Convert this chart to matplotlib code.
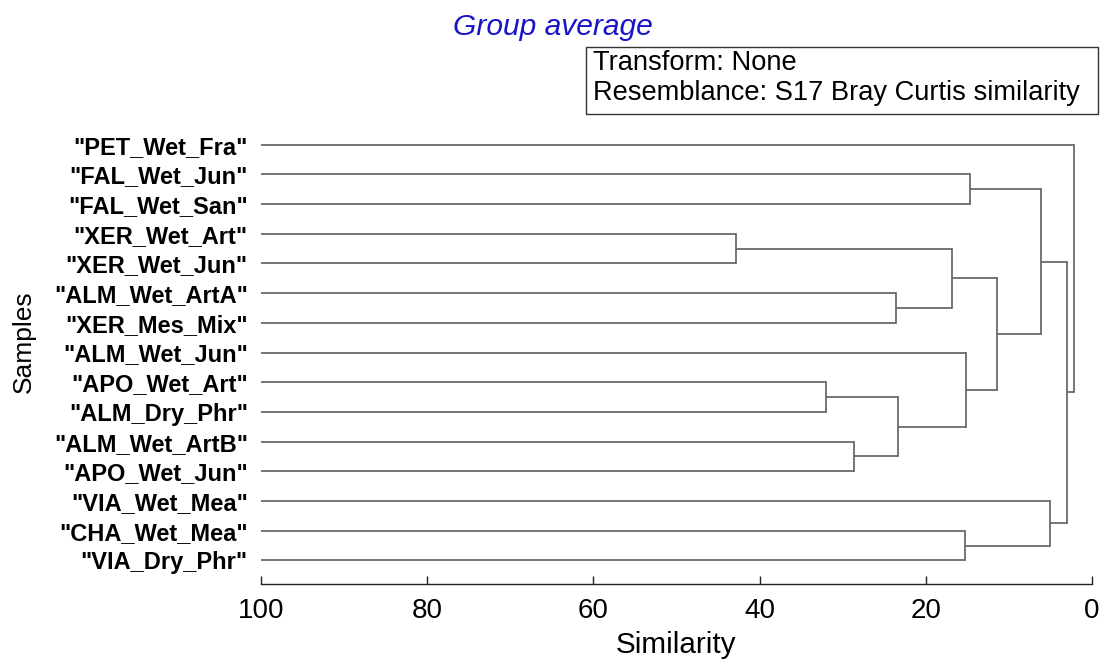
import matplotlib
matplotlib.use("Agg")
import matplotlib.pyplot as plt
from matplotlib.patches import Rectangle

plt.rcParams['font.family'] = ['Liberation Sans', 'DejaVu Sans']

# Leaves (top to bottom)
samples = ['"PET_Wet_Fra"', '"FAL_Wet_Jun"', '"FAL_Wet_San"', '"XER_Wet_Art"',
           '"XER_Wet_Jun"', '"ALM_Wet_ArtA"', '"XER_Mes_Mix"', '"ALM_Wet_Jun"',
           '"APO_Wet_Art"', '"ALM_Dry_Phr"', '"ALM_Wet_ArtB"', '"APO_Wet_Jun"',
           '"VIA_Wet_Mea"', '"CHA_Wet_Mea"', '"VIA_Dry_Phr"']

# Merges: child A, child B (node ids; leaves are 0..14, new nodes from 15)
merge_a = [3, 8, 10, 5, 16, 15, 13, 7, 1, 20, 23, 12, 25, 0]
merge_b = [4, 9, 11, 6, 17, 18, 14, 19, 2, 22, 24, 21, 26, 27]
merge_sim = [42.8, 32.0, 28.7, 23.6, 23.4, 16.8, 15.3, 15.2, 14.7, 11.4, 6.1, 5.1, 2.95, 2.2]

xticks = [100, 80, 60, 40, 20, 0]

W, H = 1102, 662
fig = plt.figure(figsize=(W / 100, H / 100), dpi=100)

# axes placement (pixels)
x_left, x_right = 261, 1092
y0_pix, dy_pix = 144.7, 29.69
ax_bot_pix, ax_top_pix = 584.3, 120
ax = fig.add_axes([x_left / W, 1 - ax_bot_pix / H,
                   (x_right - x_left) / W, (ax_bot_pix - ax_top_pix) / H])
ax.set_xlim(100, 0)
ax.set_ylim((ax_bot_pix - y0_pix) / dy_pix, (ax_top_pix - y0_pix) / dy_pix)

# node positions
n = len(samples)
node_x = {i: 100.0 for i in range(n)}
node_y = {i: float(i) for i in range(n)}
lc = '#6a6a6a'
lw = 1.3
for k, (a, b, s) in enumerate(zip(merge_a, merge_b, merge_sim)):
    nid = n + k
    ya, yb = node_y[a], node_y[b]
    ax.plot([node_x[a], s], [ya, ya], color=lc, lw=lw, solid_capstyle='butt')
    ax.plot([node_x[b], s], [yb, yb], color=lc, lw=lw, solid_capstyle='butt')
    ax.plot([s, s], [ya, yb], color=lc, lw=lw, solid_capstyle='projecting')
    node_x[nid] = s
    node_y[nid] = (ya + yb) / 2

for sp in ['top', 'right', 'left']:
    ax.spines[sp].set_visible(False)
ax.spines['bottom'].set_color('#222222')
ax.spines['bottom'].set_linewidth(1.0)

ax.set_xticks(xticks)
ax.set_xticklabels([str(t) for t in xticks])
ax.tick_params(axis='x', direction='in', length=6, width=1.0, color='#222222',
               labelsize=20, pad=10, labelcolor='black')
ax.set_yticks(range(n))
ax.set_yticklabels(samples, fontsize=17, fontweight='bold')
ax.tick_params(axis='y', length=0, pad=9.5)

fig.text(676 / W, 1 - 645 / H, 'Similarity', fontsize=21.3, ha='center', va='center')
fig.text(24 / W, 1 - 342 / H, 'Samples', fontsize=19, rotation=90, ha='center', va='center')

fig.text(553 / W, 1 - 27 / H, 'Group average', fontsize=21.6, style='italic',
         color='#1a14c8', ha='center', va='center')

# info box
bx0, by0, bx1, by1 = 585.7, 46.7, 1097.7, 114
fig.patches.append(Rectangle((bx0 / W, 1 - by1 / H), (bx1 - bx0) / W, (by1 - by0) / H,
                             transform=fig.transFigure, fill=False,
                             edgecolor='#333333', linewidth=1.0))
fig.text(593 / W, 1 - 70 / H, 'Transform: None', fontsize=19.6, ha='left', va='baseline')
fig.text(593 / W, 1 - 100 / H, 'Resemblance: S17 Bray Curtis similarity', fontsize=19.6,
         ha='left', va='baseline')

fig.savefig('out.png', dpi=100)
